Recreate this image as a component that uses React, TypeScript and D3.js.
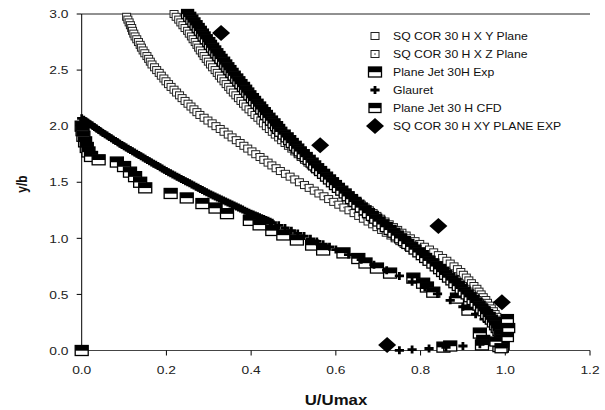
import React from "react";
import * as d3 from "d3";

// y/b levels shared by the profiles (XZ plane starts one level lower)
const yLevels = [
  3.0, 2.975, 2.95, 2.925, 2.9, 2.875, 2.85, 2.825, 2.8, 2.775,
  2.75, 2.725, 2.7, 2.675, 2.65, 2.625, 2.6, 2.575, 2.55, 2.525,
  2.5, 2.475, 2.45, 2.425, 2.4, 2.375, 2.35, 2.325, 2.3, 2.275,
  2.25, 2.225, 2.2, 2.175, 2.15, 2.125, 2.1, 2.075, 2.05, 2.025,
  2.0, 1.975, 1.95, 1.925, 1.9, 1.875, 1.85, 1.825, 1.8, 1.775,
  1.75, 1.725, 1.7, 1.675, 1.65, 1.625, 1.6, 1.575, 1.55, 1.525,
  1.5, 1.475, 1.45, 1.425, 1.4, 1.375, 1.35, 1.325, 1.3, 1.275,
  1.25, 1.225, 1.2, 1.175, 1.15, 1.125, 1.1, 1.075, 1.05, 1.025,
  1.0, 0.975, 0.95, 0.925, 0.9, 0.875, 0.85, 0.825, 0.8, 0.775,
  0.75, 0.725, 0.7, 0.675, 0.65, 0.625, 0.6, 0.575, 0.55, 0.525,
  0.5, 0.475, 0.45, 0.425, 0.4, 0.375, 0.35, 0.325, 0.3, 0.275,
  0.25, 0.225, 0.2, 0.175, 0.15, 0.125, 0.1, 0.075, 0.05, 0.025,
];

const xyPlaneU = [
  0.218, 0.223, 0.229, 0.234, 0.239, 0.244, 0.25, 0.254, 0.259, 0.263,
  0.268, 0.272, 0.276, 0.28, 0.285, 0.289, 0.294, 0.299, 0.304, 0.309,
  0.315, 0.32, 0.325, 0.33, 0.336, 0.341, 0.347, 0.352, 0.358, 0.364,
  0.37, 0.376, 0.382, 0.388, 0.395, 0.402, 0.409, 0.416, 0.423, 0.429,
  0.436, 0.443, 0.45, 0.457, 0.465, 0.472, 0.48, 0.488, 0.496, 0.503,
  0.511, 0.518, 0.526, 0.534, 0.542, 0.55, 0.558, 0.566, 0.574, 0.582,
  0.59, 0.598, 0.607, 0.616, 0.625, 0.633, 0.642, 0.651, 0.66, 0.669,
  0.679, 0.688, 0.697, 0.706, 0.716, 0.726, 0.736, 0.746, 0.756, 0.766,
  0.776, 0.787, 0.798, 0.809, 0.821, 0.831, 0.842, 0.852, 0.862, 0.87,
  0.879, 0.887, 0.895, 0.901, 0.908, 0.914, 0.92, 0.926, 0.933, 0.938,
  0.943, 0.948, 0.954, 0.958, 0.963, 0.967, 0.972, 0.976, 0.98, 0.982,
  0.984, 0.986, 0.988, 0.99, 0.991, 0.992, 0.994, 0.994, 0.994, 0.994,
];

const cfdU = [
  0.25, 0.255, 0.26, 0.265, 0.27, 0.275, 0.28, 0.285, 0.289, 0.294,
  0.3, 0.304, 0.309, 0.314, 0.319, 0.324, 0.329, 0.335, 0.34, 0.345,
  0.35, 0.355, 0.36, 0.366, 0.371, 0.376, 0.382, 0.387, 0.392, 0.397,
  0.403, 0.408, 0.414, 0.42, 0.425, 0.431, 0.436, 0.442, 0.448, 0.454,
  0.46, 0.465, 0.47, 0.478, 0.485, 0.491, 0.497, 0.504, 0.51, 0.516,
  0.523, 0.53, 0.537, 0.544, 0.55, 0.557, 0.564, 0.571, 0.578, 0.585,
  0.592, 0.599, 0.606, 0.614, 0.622, 0.629, 0.637, 0.645, 0.652, 0.66,
  0.669, 0.677, 0.686, 0.694, 0.702, 0.711, 0.719, 0.728, 0.737, 0.745,
  0.753, 0.762, 0.77, 0.779, 0.787, 0.796, 0.804, 0.812, 0.82, 0.829,
  0.837, 0.845, 0.852, 0.859, 0.866, 0.874, 0.881, 0.889, 0.896, 0.903,
  0.91, 0.917, 0.924, 0.931, 0.938, 0.944, 0.95, 0.956, 0.962, 0.967,
  0.972, 0.977, 0.981, 0.985, 0.988, 0.99, 0.992, 0.994, 0.995, 0.993,
];
const cfdExtraU = [1.005, 1.008, 1.005, 0.985, 0.978, 0.99];
const cfdExtraY = [0.28, 0.2, 0.12, 0.03, 0.08, 0.02];

// XZ plane, at yLevels[1..]
const xzU = [
  0.106, 0.109, 0.112, 0.115, 0.118, 0.12, 0.123, 0.126, 0.13, 0.134,
  0.138, 0.141, 0.145, 0.149, 0.154, 0.158, 0.162, 0.166, 0.172, 0.177,
  0.183, 0.188, 0.194, 0.199, 0.205, 0.211, 0.218, 0.224, 0.231, 0.237,
  0.244, 0.251, 0.258, 0.265, 0.272, 0.279, 0.289, 0.298, 0.308, 0.317,
  0.327, 0.336, 0.346, 0.355, 0.365, 0.374, 0.383, 0.392, 0.402, 0.411,
  0.421, 0.43, 0.44, 0.449, 0.459, 0.469, 0.481, 0.492, 0.503, 0.514,
  0.526, 0.537, 0.549, 0.56, 0.572, 0.583, 0.595, 0.607, 0.619, 0.631,
  0.643, 0.654, 0.665, 0.676, 0.687, 0.697, 0.708, 0.719, 0.73, 0.74,
  0.751, 0.761, 0.772, 0.783, 0.794, 0.804, 0.814, 0.823, 0.832, 0.841,
  0.851, 0.86, 0.868, 0.876, 0.884, 0.891, 0.899, 0.907, 0.914, 0.92,
  0.927, 0.933, 0.939, 0.945, 0.95, 0.955, 0.96, 0.964, 0.968, 0.971,
  0.975, 0.979, 0.982, 0.985, 0.987, 0.988, 0.989, 0.99, 0.99,
];

const jetExpU = [
  0.0, 0.0, 0.002, 0.004, 0.008, 0.012, 0.016, 0.022, 0.04,
  0.083, 0.1, 0.114, 0.126, 0.138, 0.15, 0.21, 0.248, 0.285, 0.316, 0.343,
  0.397, 0.42, 0.45, 0.476, 0.508, 0.544, 0.57, 0.618, 0.653, 0.67,
  0.697, 0.728, 0.783, 0.806, 0.815, 0.83, 0.886, 0.913, 0.94, 0.948,
  0.854, 0.87, 0.945, 0.99, 1.0,
];
const jetExpY = [
  0.0, 2.0, 1.96, 1.91, 1.86, 1.81, 1.77, 1.73, 1.7,
  1.68, 1.64, 1.59, 1.55, 1.5, 1.45, 1.4, 1.36, 1.31, 1.27, 1.22,
  1.16, 1.12, 1.07, 1.03, 0.985, 0.94, 0.896, 0.87, 0.82, 0.78,
  0.735, 0.69, 0.645, 0.6, 0.566, 0.52, 0.467, 0.36, 0.155, 0.09,
  0.03, 0.04, 0.05, 0.25, 0.18,
];

const glauretU = [
  0.0, 0.005, 0.01, 0.015, 0.02, 0.025, 0.03, 0.035, 0.04, 0.045,
  0.05, 0.055, 0.06, 0.065, 0.07, 0.075, 0.08, 0.085, 0.09, 0.095,
  0.1, 0.105, 0.11, 0.115, 0.12, 0.125, 0.13, 0.135, 0.14, 0.145,
  0.15, 0.155, 0.16, 0.165, 0.17, 0.175, 0.18, 0.185, 0.19, 0.195,
  0.2, 0.205, 0.21, 0.215, 0.22, 0.225, 0.23, 0.235, 0.24, 0.245,
  0.25, 0.255, 0.26, 0.265, 0.27, 0.275, 0.28, 0.285, 0.29, 0.295,
  0.3, 0.305, 0.31, 0.315, 0.32, 0.325, 0.33, 0.335, 0.34, 0.345,
  0.35, 0.355, 0.36, 0.365, 0.37, 0.375, 0.38, 0.385, 0.39, 0.395,
  0.4, 0.405, 0.41, 0.415, 0.42, 0.425, 0.43, 0.435, 0.44, 0.445, 0.45,
  0.465, 0.48, 0.495, 0.51, 0.525, 0.54, 0.555, 0.57, 0.585, 0.6,
  0.63, 0.66, 0.69, 0.72, 0.75, 0.78, 0.81, 0.84, 0.87, 0.9,
  0.93, 0.95, 0.97, 0.99, 1.0,
  0.99, 0.97, 0.94, 0.9, 0.86, 0.82, 0.78, 0.75,
];
const glauretY = [
  2.07, 2.057, 2.044, 2.031, 2.018, 2.005, 1.992, 1.979, 1.966, 1.953,
  1.94, 1.928, 1.916, 1.904, 1.892, 1.88, 1.868, 1.856, 1.844, 1.832,
  1.82, 1.809, 1.798, 1.787, 1.776, 1.765, 1.754, 1.743, 1.732, 1.721,
  1.71, 1.699, 1.688, 1.677, 1.666, 1.655, 1.644, 1.633, 1.622, 1.611,
  1.6, 1.59, 1.58, 1.57, 1.56, 1.55, 1.54, 1.53, 1.52, 1.51,
  1.5, 1.49, 1.48, 1.47, 1.46, 1.45, 1.44, 1.43, 1.42, 1.41,
  1.4, 1.391, 1.382, 1.373, 1.364, 1.355, 1.346, 1.337, 1.328, 1.319,
  1.31, 1.301, 1.292, 1.283, 1.274, 1.265, 1.256, 1.247, 1.238, 1.229,
  1.22, 1.212, 1.204, 1.196, 1.188, 1.18, 1.172, 1.164, 1.156, 1.148, 1.14,
  1.116, 1.092, 1.068, 1.044, 1.02, 0.996, 0.972, 0.948, 0.924, 0.9,
  0.855, 0.81, 0.765, 0.716, 0.665, 0.614, 0.561, 0.504, 0.447, 0.39,
  0.324, 0.28, 0.227, 0.173, 0.14,
  0.1, 0.075, 0.055, 0.04, 0.028, 0.018, 0.008, 0.002,
];

const diamondU = [0.329, 0.563, 0.842, 0.992, 0.721];
const diamondY = [2.83, 1.83, 1.11, 0.43, 0.05];

const xTicks = [0, 0.2, 0.4, 0.6, 0.8, 1.0, 1.2];
const yTicks = [0, 0.5, 1.0, 1.5, 2.0, 2.5, 3.0];

const legendLabels = [
  "SQ COR 30 H X Y Plane",
  "SQ COR 30 H X Z Plane",
  "Plane Jet 30H Exp",
  "Glauret",
  "Plane Jet 30 H CFD",
  "SQ COR 30 H XY PLANE EXP",
];

const FONT = "'Liberation Sans', Arial, sans-serif";
const SX = 1.2; // horizontal stretch of the original picture

type MarkerKind = "open" | "dot" | "half" | "plus" | "cfd" | "diamond";

function Marker({ kind, cx, cy }: { kind: MarkerKind; cx: number; cy: number }) {
  if (kind === "open" || kind === "dot") {
    const w = 8;
    const h = 7;
    return (
      <g>
        <rect x={cx - w / 2} y={cy - h / 2} width={w} height={h} fill="#fff" stroke="#222" strokeWidth={1} />
        {kind === "dot" && <rect x={cx - 0.8} y={cy - 0.8} width={1.6} height={1.6} fill="#777" />}
      </g>
    );
  }
  if (kind === "half" || kind === "cfd") {
    const w = kind === "half" ? 13 : 12;
    const h = kind === "half" ? 10 : 9;
    return (
      <g>
        <rect x={cx - w / 2} y={cy - h / 2} width={w} height={h} fill="#fff" stroke="#000" strokeWidth={1.3} />
        <rect x={cx - w / 2} y={cy - h / 2} width={w} height={h * 0.52} fill="#000" />
      </g>
    );
  }
  if (kind === "plus") {
    const ax = 4.6;
    const ay = 4;
    return (
      <path
        d={`M${cx - ax},${cy}H${cx + ax}M${cx},${cy - ay}V${cy + ay}`}
        stroke="#000"
        strokeWidth={2.8}
        fill="none"
      />
    );
  }
  const dx = 9;
  const dy = 8;
  return <path d={`M${cx},${cy - dy}L${cx + dx},${cy}L${cx},${cy + dy}L${cx - dx},${cy}Z`} fill="#000" />;
}

function Txt({
  x,
  y,
  anchor = "start",
  size,
  weight = "normal",
  fill = "#222",
  children,
}: {
  x: number;
  y: number;
  anchor?: "start" | "middle" | "end";
  size: number;
  weight?: string;
  fill?: string;
  children: React.ReactNode;
}) {
  return (
    <text
      transform={`translate(${x},${y}) scale(${SX},1)`}
      textAnchor={anchor}
      fontSize={size}
      fontWeight={weight}
      fontFamily={FONT}
      fill={fill}
    >
      {children}
    </text>
  );
}

export default function App() {
  const W = 605;
  const H = 410;
  const x = d3.scaleLinear().domain([0, 1.2]).range([81.7, 590]);
  const y = d3.scaleLinear().domain([0, 3]).range([350.5, 14]);
  const fmt = d3.format(".1f");

  const xyPts = yLevels.map((v, i) => [xyPlaneU[i], v]);
  const xzPts = yLevels.slice(1).map((v, i) => [xzU[i], v]);
  const jetPts = jetExpY.map((v, i) => [jetExpU[i], v]);
  const glPts = glauretY.map((v, i) => [glauretU[i], v]);
  const cfdPts = yLevels
    .map((v, i) => [cfdU[i], v])
    .concat(cfdExtraY.map((v, i) => [cfdExtraU[i], v]));
  const diaPts = diamondY.map((v, i) => [diamondU[i], v]);

  const series: { kind: MarkerKind; pts: number[][] }[] = [
    { kind: "open", pts: xyPts },
    { kind: "dot", pts: xzPts },
    { kind: "half", pts: jetPts },
    { kind: "plus", pts: glPts },
    { kind: "cfd", pts: cfdPts },
    { kind: "diamond", pts: diaPts },
  ];
  const legendKinds: MarkerKind[] = ["open", "dot", "half", "plus", "cfd", "diamond"];
  const legendRowY = d3.scaleLinear().domain([0, 5]).range([36, 126]);

  const [x0, x1] = x.range();
  const [y0, y1] = y.range();

  return (
    <svg width={W} height={H} style={{ position: "absolute", left: 0, top: 0, background: "#fff" }}>
      <rect width={W} height={H} fill="#fff" />
      <line x1={x0} x2={x1} y1={y1} y2={y1} stroke="#222" strokeWidth={1} />
      <line x1={x0} x2={x0} y1={y0} y2={y1} stroke="#000" strokeWidth={1} />
      <line x1={x0} x2={x1} y1={y0} y2={y0} stroke="#444" strokeWidth={1} />
      {yTicks.map((t) => (
        <g key={"y" + t}>
          <line x1={x0 - 5} x2={x0} y1={y(t)} y2={y(t)} stroke="#000" />
          <Txt x={68.5} y={y(t) + 4.2} anchor="end" size={11.5}>
            {fmt(t)}
          </Txt>
        </g>
      ))}
      {xTicks.map((t) => (
        <g key={"x" + t}>
          <line x1={x(t)} x2={x(t)} y1={y0} y2={y0 + 5} stroke="#000" />
          <Txt x={x(t)} y={373.5} anchor="middle" size={11.5}>
            {fmt(t)}
          </Txt>
        </g>
      ))}
      <text
        transform={`translate(27,184) rotate(-90) scale(1,${SX})`}
        textAnchor="middle"
        fontSize={12}
        fontWeight="bold"
        fontFamily={FONT}
        fill="#111"
      >
        y/b
      </text>
      <Txt x={336} y={405} anchor="middle" size={14} weight="bold" fill="#111">
        U/Umax
      </Txt>

      {series.map((s, si) => (
        <g key={"s" + si}>
          {s.pts.map((p, i) => (
            <Marker key={i} kind={s.kind} cx={x(p[0])} cy={y(p[1])} />
          ))}
        </g>
      ))}

      {legendLabels.map((lab, i) => (
        <g key={"l" + i}>
          <Marker kind={legendKinds[i]} cx={375} cy={legendRowY(i)} />
          <Txt x={393} y={legendRowY(i) + 3.6} size={10.2} fill="#111">
            {lab}
          </Txt>
        </g>
      ))}
    </svg>
  );
}
